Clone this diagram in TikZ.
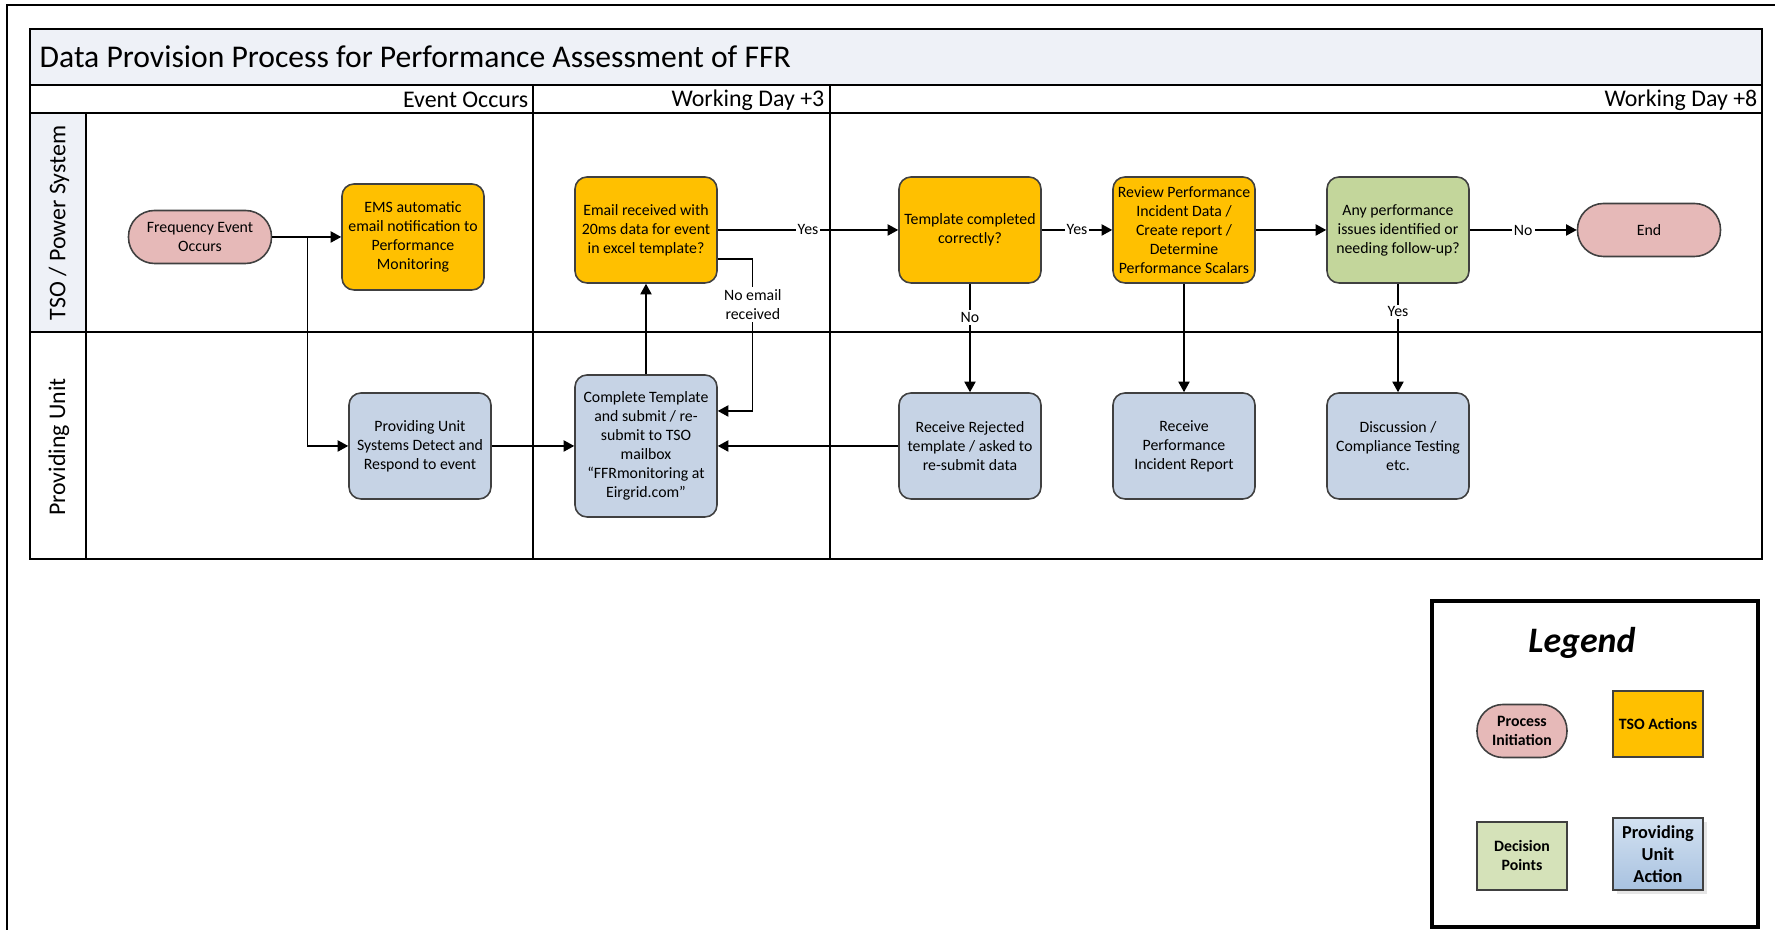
\documentclass[tikz,border=0pt]{standalone}
\usepackage{fontspec}
\setmainfont{Carlito}
\usetikzlibrary{arrows.meta,shadows}

\definecolor{initpink}{HTML}{E6B9B8}
\definecolor{tsoorange}{HTML}{FFC000}
\definecolor{decgreen}{HTML}{C3D69B}
\definecolor{unitblue}{HTML}{C6D3E5}
\definecolor{legbluetop}{HTML}{D3E1F1}
\definecolor{legbluebot}{HTML}{A8C2E0}
\definecolor{headfill}{HTML}{EEF1F7}
\definecolor{edgegray}{HTML}{404040}

\begin{document}
\begin{tikzpicture}[
        x=0.1mm, y=-0.1mm,
        flow/.style={draw, line width=0.35pt, -{Triangle[length=3pt,width=3.2pt]}},
        lbl/.style={fill=white, inner sep=0.6pt, align=center, font=\fontsize{4.5}{5.4}\selectfont},
        box/.style={draw=edgegray, line width=0.45pt, rounded corners=1.2mm, align=center,
                minimum width=14.2mm, minimum height=10.6mm, inner sep=1pt,
                font=\fontsize{4.5}{5.4}\selectfont},
        tso/.style={box, fill=tsoorange},
        unit/.style={box, fill=unitblue},
        decide/.style={box, fill=decgreen},
        terminal/.style={box, fill=initpink, minimum height=5.3mm, rounded corners=2.6mm},
        lane/.style={line width=0.75pt},
        thinline/.style={line width=0.45pt},
        phase/.style={anchor=east, inner sep=0pt, font=\fontsize{6.8}{8}\selectfont},
        lanename/.style={rotate=90, inner sep=0pt, font=\fontsize{6.8}{8}\selectfont},
        legitem/.style={draw=edgegray, line width=0.45pt, align=center, minimum width=9mm,
                inner sep=1pt, font=\bfseries\fontsize{4.5}{5.4}\selectfont}
    ]
    \useasboundingbox (0,0) rectangle (1775,930);

    % Frame
    \draw[line width=0.6pt] (7,930) -- (7,5) -- (1775,5);

    % Title
    \draw[lane, fill=headfill] (30,29) rectangle (1762,85);
    \node[anchor=west, inner sep=0pt, font=\fontsize{9}{10.8}\selectfont] (title) at (39,57)
        {Data Provision Process for Performance Assessment of FFR};

    % Lanes
    \fill[headfill] (30,113) rectangle (86,332);
    \draw[thinline] (30,85) rectangle (1762,113);
    \draw[thinline] (533,85) -- (533,559);
    \draw[thinline] (830,113) -- (830,559);
    \draw[thinline] (86,332) -- (86,559);
    \draw[lane] (830,85) rectangle (1762,113);
    \draw[lane] (30,113) rectangle (86,332);
    \draw[lane] (30,113) rectangle (1762,559);
    \draw[lane] (30,332) -- (1762,332);

    \node[phase] (ph0) at (529,100) {Event Occurs};
    \node[phase] (ph3) at (825,100) {Working Day +3};
    \node[phase] (ph8) at (1758,100) {Working Day +8};
    \node[lanename] (tsolane) at (59,223) {TSO / Power System};
    \node[lanename] (unitlane) at (59,447) {Providing Unit};

    % TSO / Power System
    \node[terminal, minimum width=14.3mm] (freq) at (200,237) {Frequency Event\\Occurs};
    \node[tso] (ems) at (413,237) {EMS automatic\\email notification to\\Performance\\Monitoring};
    \node[tso] (email) at (646,230) {Email received with\\20ms data for event\\in excel template?};
    \node[tso] (tmpl) at (970,230) {Template completed\\correctly?};
    \node[tso] (review) at (1184,230) {Review Performance\\Incident Data /\\Create report /\\Determine\\Performance Scalars};
    \node[decide] (anyperf) at (1398,230) {Any performance\\issues identified or\\needing follow-up?};
    \node[terminal, minimum width=14.3mm] (finish) at (1649,230) {End};

    % Providing Unit
    \node[unit] (pusys) at (420,446) {Providing Unit\\Systems Detect and\\Respond to event};
    \node[unit, minimum height=14.2mm] (complete) at (646,446)
        {Complete Template\\and submit / re-\\submit to TSO\\mailbox\\“FFRmonitoring at\\Eirgrid.com”};
    \node[unit] (rejected) at (970,446) {Receive Rejected\\template / asked to\\re-submit data};
    \node[unit] (rcvreport) at (1184,446) {Receive\\Performance\\Incident Report};
    \node[unit] (discuss) at (1398,446) {Discussion /\\Compliance Testing\\etc.};

    % Connectors
    \draw[flow] (freq) -- (ems);
    \draw[flow] (freq.east) -- ++(35,0) |- (pusys.west);
    \draw[flow] (pusys) -- (complete);
    \draw[flow] (complete) -- (email);
    \draw[flow] (email) -- node[lbl] {Yes} (tmpl);
    \draw[flow] ([yshift=-2.9mm]email.east) -- ++(35,0)
        |- node[lbl, pos=0.15] {No email\\received} ([yshift=3.5mm]complete.east);
    \draw[flow] (tmpl) -- node[lbl, pos=0.31] {No} (rejected);
    \draw[flow] (rejected) -- (complete);
    \draw[flow] (tmpl) -- node[lbl] {Yes} (review);
    \draw[flow] (review) -- (anyperf);
    \draw[flow] (review) -- (rcvreport);
    \draw[flow] (anyperf) -- node[lbl] {No} (finish);
    \draw[flow] (anyperf) -- node[lbl, pos=0.26] {Yes} (discuss);

    % Legend
    \draw[line width=0.9pt] (1432,601) rectangle (1758,927);
    \node[font=\bfseries\itshape\fontsize{10.2}{12}\selectfont] (legtitle) at (1582,643) {Legend};
    \node[legitem, fill=initpink, minimum height=5.3mm, rounded corners=2.6mm] (legproc) at (1522,731)
        {Process\\Initiation};
    \node[legitem, fill=tsoorange, minimum height=6.6mm] (legtso) at (1658,724) {TSO Actions};
    \node[legitem, fill=decgreen!70!white, minimum height=6.8mm] (legdec) at (1522,856) {Decision\\Points};
    \node[legitem, top color=legbluetop, bottom color=legbluebot,
        minimum height=7.2mm, font=\bfseries\fontsize{5.2}{6.2}\selectfont,
        drop shadow={shadow xshift=0.4mm, shadow yshift=-0.4mm, fill=gray!40}] (legpu) at (1658,854)
        {Providing\\Unit\\Action};
\end{tikzpicture}
\end{document}
